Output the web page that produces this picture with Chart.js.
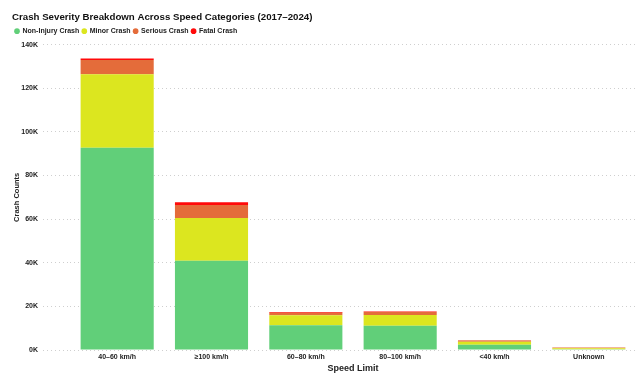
<!DOCTYPE html>
<html>
<head>
<meta charset="utf-8">
<script src="https://cdn.jsdelivr.net/npm/chart.js@4/dist/chart.umd.min.js"></script>
<style>
html,body{margin:0;padding:0;background:#fff;}
#wrap{position:relative;width:643px;height:376px;}
</style>
</head>
<body>
<div id="wrap"><canvas id="c" width="643" height="376"></canvas></div>
<script>
const categories = ['40–60 km/h', '≥100 km/h', '60–80 km/h', '80–100 km/h', '<40 km/h', 'Unknown'];
const nonInjury = [92700, 40900, 11400, 11100, 2400, 400];
const minor = [33700, 19600, 4500, 4900, 1400, 350];
const serious = [6600, 6000, 1200, 1400, 500, 400];
const fatal = [600, 1200, 300, 300, 200, 30];
const yTicks = [0, 20000, 40000, 60000, 80000, 100000, 120000, 140000];

const FONT = "'Liberation Sans', Arial, sans-serif";
const ds = (label, data, color) => ({label, data, backgroundColor: color, borderWidth: 0, barPercentage: 0.775, categoryPercentage: 1});

new Chart(document.getElementById('c'), {
  type: 'bar',
  data: {
    labels: categories,
    datasets: [
      ds('Non-Injury Crash', nonInjury, '#61CF79'),
      ds('Minor Crash', minor, '#DCE61F'),
      ds('Serious Crash', serious, '#E46C3A'),
      ds('Fatal Crash', fatal, '#FF0A0A')
    ]
  },
  options: {
    responsive: false,
    animation: false,
    layout: {padding: {left: 12, right: 7, top: 12, bottom: 2}},
    plugins: {
      title: {
        display: true, align: 'start',
        text: 'Crash Severity Breakdown Across Speed Categories (2017–2024)',
        color: '#111', font: {family: FONT, size: 9.7, weight: 'bold'},
        padding: {top: 0, bottom: 1}
      },
      legend: {
        display: true, position: 'top', align: 'start',
        labels: {
          usePointStyle: true, pointStyle: 'circle', boxWidth: 4, boxHeight: 4,
          padding: 3, color: '#222',
          font: {family: FONT, size: 7, weight: 'bold'}
        }
      },
      tooltip: {enabled: false}
    },
    scales: {
      x: {
        stacked: true,
        grid: {display: false, drawTicks: false},
        border: {display: false},
        afterFit: (s) => { s.height = 24; },
        ticks: {color: '#222', font: {family: FONT, size: 7, weight: 'bold'}, padding: 3},
        title: {display: true, text: 'Speed Limit', color: '#222', font: {family: FONT, size: 9, weight: 'bold'}, padding: {top: 1, bottom: 0}}
      },
      y: {
        stacked: true,
        min: 0, max: 140000,
        afterBuildTicks: (s) => { s.ticks = yTicks.map(v => ({value: v})); },
        afterFit: (s) => { s.width = 58; },
        grid: {color: '#cfcfcf', lineWidth: 1, tickLength: 27, tickColor: '#cfcfcf', tickBorderDash: [1, 3]},
        border: {display: false, dash: [1, 3]},
        ticks: {color: '#222', font: {family: FONT, size: 7, weight: 'bold'}, padding: 5,
          callback: (v) => (v / 1000) + 'K'},
        title: {display: true, text: 'Crash Counts', color: '#222', font: {family: FONT, size: 7.5, weight: 'bold'}, padding: {top: 0, bottom: 0}}
      }
    }
  }
});
</script>
</body>
</html>
